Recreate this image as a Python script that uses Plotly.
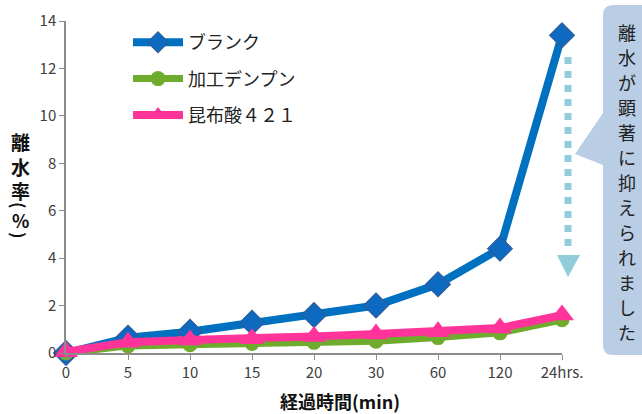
import plotly.graph_objects as go

categories = ["0", "5", "10", "15", "20", "30", "60", "120", "24hrs."]
blank = [0.0, 0.65, 0.9, 1.28, 1.6, 2.0, 2.9, 4.4, 13.4]
processed_starch = [0.0, 0.3, 0.35, 0.4, 0.45, 0.5, 0.65, 0.85, 1.4]
kombu_421 = [0.05, 0.45, 0.55, 0.6, 0.7, 0.8, 0.9, 1.05, 1.6]
series_names = ["ブランク", "加工デンプン", "昆布酸４２１"]
y_ticks = [0, 2, 4, 6, 8, 10, 12, 14]
callout_text = "離水が顕著に抑えられました"
y_title_main = "離水率"
y_title_unit = "%"
x_title = "経過時間(min)"

W, H = 642, 414
PL, PR, PT, PB = 66, 562, 21, 353  # plot area in page pixels
L, T, R, B = PL, PT, W - PR, H - PB
PW, PH = PR - PL, PB - PT

def px(x):
    return (x - PL) / PW

def py(y):
    return (PB - y) / PH

JP = "Noto Sans CJK JP"
fig = go.Figure()
x_idx = list(range(len(categories)))

fig.add_trace(go.Scatter(
    x=x_idx, y=blank, name=series_names[0], mode="lines+markers",
    line=dict(color="#0070c0", width=8),
    marker=dict(symbol="diamond", size=19, color="#0d6ac0",
                line=dict(color="#2f5c9a", width=1.2)),
    legendgroup="a", cliponaxis=False))
fig.add_trace(go.Scatter(
    x=x_idx, y=processed_starch, name=series_names[1], mode="lines+markers",
    line=dict(color="#6fac2e", width=7),
    marker=dict(symbol="circle", size=15, color="#6fac2e"),
    legendgroup="b", cliponaxis=False))
fig.add_trace(go.Scatter(
    x=x_idx, y=kombu_421, name=series_names[2], mode="lines+markers",
    line=dict(color="#ff3399", width=8),
    marker=dict(symbol="triangle-up", size=21, color="#ff3399"),
    legendgroup="c", cliponaxis=False))

shapes = []
bx0, bx1, by0, by1, r = 603, 660, 5, 355, 10
path = (
    f"M {px(bx0 + r)} {py(by0)} L {px(bx1)} {py(by0)} L {px(bx1)} {py(by1)} "
    f"L {px(bx0 + r)} {py(by1)} Q {px(bx0)} {py(by1)} {px(bx0)} {py(by1 - r)} "
    f"L {px(bx0)} {py(165)} L {px(575)} {py(154)} L {px(bx0)} {py(113)} "
    f"L {px(bx0)} {py(by0 + r)} Q {px(bx0)} {py(by0)} {px(bx0 + r)} {py(by0)} Z"
)
shapes.append(dict(type="path", xref="paper", yref="paper", path=path,
                   fillcolor="#b9cde5", line=dict(width=0), layer="below"))
shapes.append(dict(type="line", xref="paper", yref="paper",
                   x0=px(568), x1=px(568), y0=py(57), y1=py(248),
                   line=dict(color="#92cddc", width=7, dash="7px,7px")))
shapes.append(dict(type="path", xref="paper", yref="paper",
                   path=f"M {px(557)} {py(255)} L {px(580)} {py(255)} L {px(568)} {py(277)} Z",
                   fillcolor="#92cddc", line=dict(width=0)))

annotations = []
for i, ch in enumerate(callout_text):
    annotations.append(dict(text=ch, xref="paper", yref="paper", x=px(627), y=py(32 + i * 25),
                            showarrow=False, font=dict(family=JP, size=18, color="#222222"),
                            xanchor="center", yanchor="middle"))
annotations.append(dict(text="<b>" + "<br>".join(y_title_main) + "</b>", xref="paper", yref="paper",
                        x=px(20), y=py(126), showarrow=False,
                        font=dict(family=JP, size=19, color="#111111"),
                        xanchor="center", yanchor="top"))
# vertical-style parentheses around the unit
for ch, yy in (("(", 205), (")", 235)):
    annotations.append(dict(text=f"<b>{ch}</b>", xref="paper", yref="paper", x=px(20), y=py(yy),
                            showarrow=False, textangle=90,
                            font=dict(family=JP, size=17, color="#111111"),
                            xanchor="center", yanchor="middle"))
annotations.append(dict(text=f"<b>{y_title_unit}</b>", xref="paper", yref="paper", x=px(20), y=py(220),
                        showarrow=False, font=dict(family=JP, size=18, color="#111111"),
                        xanchor="center", yanchor="middle"))
annotations.append(dict(text=f"<b>{x_title}</b>", xref="paper", yref="paper", x=px(340), y=py(401),
                        showarrow=False, font=dict(family=JP, size=18, color="#111111"),
                        xanchor="center", yanchor="middle"))

fig.update_layout(
    width=W, height=H, margin=dict(l=L, r=R, t=T, b=B, autoexpand=False),
    paper_bgcolor="white", plot_bgcolor="white",
    font=dict(family=JP, color="#404040"),
    showlegend=True,
    legend=dict(x=px(128), y=py(24), xanchor="left", yanchor="top",
                font=dict(family=JP, size=18, color="#222222"),
                bgcolor="rgba(0,0,0,0)", traceorder="grouped", tracegroupgap=10,
                itemwidth=50),
    shapes=shapes, annotations=annotations,
    xaxis=dict(range=[0, len(categories) - 1], tickmode="array", tickvals=x_idx, ticktext=categories,
               showgrid=False, zeroline=False, showline=True, linecolor="#8c8c8c", linewidth=1.5,
               ticks="outside", ticklen=5, tickcolor="#8c8c8c",
               tickfont=dict(family=JP, size=15, color="#404040")),
    yaxis=dict(range=[0, 14], tickvals=y_ticks, showgrid=False, zeroline=False,
               showline=True, linecolor="#8c8c8c", linewidth=1.5,
               ticks="outside", ticklen=5, tickcolor="#8c8c8c",
               tickfont=dict(family=JP, size=15, color="#404040")),
)

fig.write_html("out.html", config={"displayModeBar": False},
               post_script="document.body.style.margin='0';document.body.style.overflow='hidden';")
